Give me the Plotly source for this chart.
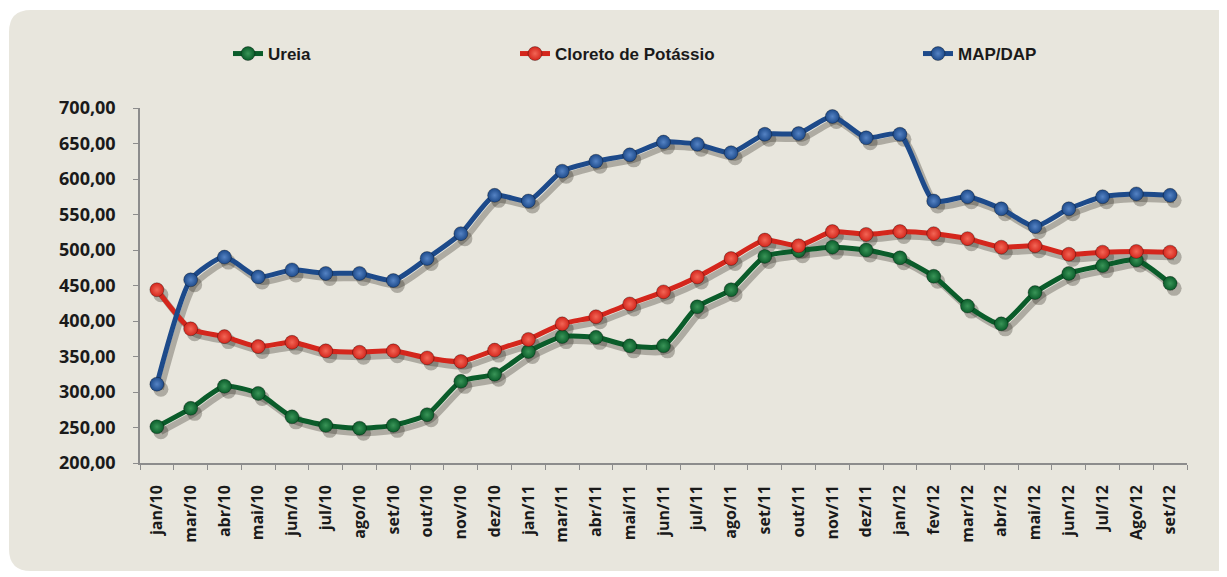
import plotly.graph_objects as go

meses = ["jan/10", "mar/10", "abr/10", "mai/10", "jun/10", "jul/10", "ago/10", "set/10",
         "out/10", "nov/10", "dez/10", "jan/11", "mar/11", "abr/11", "mai/11", "jun/11",
         "jul/11", "ago/11", "set/11", "out/11", "nov/11", "dez/11", "jan/12", "fev/12",
         "mar/12", "abr/12", "mai/12", "jun/12", "Jul/12", "Ago/12", "set/12"]

ureia = [251, 277, 308, 298, 265, 253, 249, 253, 268, 315, 325, 357, 378, 377, 365, 365,
         420, 444, 491, 499, 504, 500, 489, 463, 421, 396, 440, 467, 478, 486, 453]

cloreto = [444, 389, 378, 364, 370, 358, 356, 358, 348, 343, 359, 374, 396, 406, 424, 441,
           462, 488, 514, 506, 526, 522, 526, 523, 516, 504, 506, 494, 497, 498, 497]

map_dap = [311, 458, 490, 462, 472, 467, 467, 457, 488, 523, 577, 569, 611, 625, 634, 652,
           649, 637, 663, 664, 688, 658, 663, 569, 575, 558, 533, 558, 575, 579, 577]

W, H = 1227, 577
OFF = 8  # margem do body da pagina
L, R, T, B = 132, 48, 100, 122
pw, ph = W - L - R, H - T - B

def px(x):
    return (x - OFF - L) / pw

def py(y):
    return (H - B - (y - OFF)) / ph

fig = go.Figure()

series = [
    ("Ureia", ureia, "#0a5c2a", "#3a9558", "legend"),
    ("Cloreto de Potássio", cloreto, "#d4261c", "#f26656", "legend2"),
    ("MAP/DAP", map_dap, "#1d4a8a", "#5583c4", "legend3"),
]

# sombras (desenhadas no subplot de baixo, com eixos deslocados)
for nome, vals, cor, brilho, leg in series:
    fig.add_trace(go.Scatter(
        x=meses, y=vals, mode="lines+markers", showlegend=False, hoverinfo="skip",
        xaxis="x", yaxis="y",
        line=dict(color="rgba(40,35,25,0.3)", width=6, shape="spline", smoothing=0.6),
        marker=dict(size=15, color="rgba(40,35,25,0.3)"),
    ))

for nome, vals, cor, brilho, leg in series:
    fig.add_trace(go.Scatter(
        x=meses, y=vals, name=nome, mode="lines+markers", legend=leg,
        xaxis="x2", yaxis="y2",
        line=dict(color=cor, width=5, shape="spline", smoothing=0.6),
        marker=dict(size=14, color=cor, line=dict(color="rgba(0,0,0,0.3)", width=1),
                    gradient=dict(type="radial", color=brilho)),
    ))

# painel bege com cantos arredondados
x0, x1, y0, y1, r = 9, 1250, 10, 571, 22
rx, ry = r / pw, r / ph
X0, X1, Y0, Y1 = px(x0), px(x1), py(y0), py(y1)
path = (f"M {X0 + rx} {Y0} L {X1} {Y0} L {X1} {Y1} L {X0 + rx} {Y1} "
        f"Q {X0} {Y1} {X0} {Y1 + ry} L {X0} {Y0 - ry} Q {X0} {Y0} {X0 + rx} {Y0} Z")
fig.add_shape(type="path", path=path, xref="paper", yref="paper",
              fillcolor="#e8e6dd", line=dict(width=0), layer="below")

leg_font = dict(family="Liberation Sans", size=17, color="#1a1a1a", weight="bold")
leg_base = dict(orientation="h", yanchor="middle", y=py(54), xanchor="left",
                bgcolor="rgba(0,0,0,0)", font=leg_font, itemwidth=30)

sx = 4 / (pw / len(meses))     # deslocamento da sombra em categorias
sy = 5 / (ph / 500)            # deslocamento da sombra em unidades

tick_font = dict(family="Open Sans, Liberation Sans", color="#1a1a1a", weight="bold")

fig.update_layout(
    width=W, height=H,
    margin=dict(l=L, r=R, t=T, b=B),
    paper_bgcolor="white",
    plot_bgcolor="rgba(0,0,0,0)",
    separators=",.",
    showlegend=True,
    legend=dict(leg_base, x=px(228)),
    legend2=dict(leg_base, x=px(515)),
    legend3=dict(leg_base, x=px(918)),
    xaxis=dict(type="category", visible=False, range=[-0.5 - sx, len(meses) - 0.5 - sx]),
    yaxis=dict(visible=False, range=[200 + sy, 700 + sy]),
    xaxis2=dict(
        type="category", overlaying="x", range=[-0.5, len(meses) - 0.5],
        tickangle=-90, tickson="boundaries", ticks="outside",
        ticklen=5, tickcolor="#8c8c8c", showline=True, linecolor="#8c8c8c",
        linewidth=1.5, showgrid=False, ticklabelstandoff=14,
        tickfont=dict(tick_font, size=16),
    ),
    yaxis2=dict(
        overlaying="y", side="left", range=[200, 700], dtick=50, tickformat=".2f",
        ticks="outside", ticklen=5, ticklabelstandoff=14,
        tickcolor="#8c8c8c", showline=True, linecolor="#8c8c8c", linewidth=1.5,
        showgrid=False, zeroline=False,
        tickfont=dict(tick_font, size=18),
    ),
)

fig.write_html("out.html")
